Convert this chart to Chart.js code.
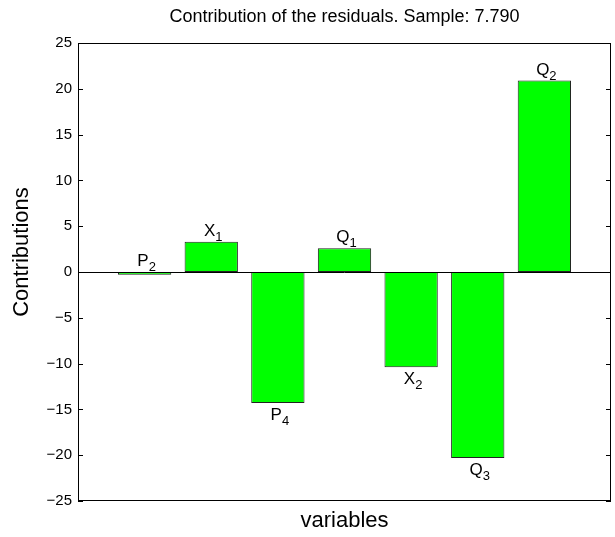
<!DOCTYPE html>
<html>
<head>
<meta charset="utf-8">
<script src="https://cdn.jsdelivr.net/npm/chart.js@4/dist/chart.umd.min.js"></script>
<style>
  html, body { margin: 0; padding: 0; background: #fff; }
  #wrap { width: 615px; height: 537px; }
</style>
</head>
<body>
<div id="wrap"><canvas id="grafico"></canvas></div>
<script>
// variables shown along the x axis (letter + subscript)
const varNames = ["P", "X", "P", "Q", "X", "Q", "Q"];
const varSubs = ["2", "1", "4", "1", "2", "3", "2"];
const positions = [1, 2, 3, 4, 5, 6, 7];
const contributions = [-0.3, 3.3, -14.3, 2.6, -10.4, -20.3, 20.9];
const yTicks = [-25, -20, -15, -10, -5, 0, 5, 10, 15, 20, 25];

const FONT = "'Liberation Sans', Arial, Helvetica, sans-serif";

// frame, inward ticks, zero line, titles and bar labels
const decor = {
    id: 'decor',
    afterDatasetsDraw(chart) {
        const ctx = chart.ctx;
        const a = chart.chartArea;
        const y = chart.scales.y;
        const x = chart.scales.x;
        ctx.save();
        ctx.strokeStyle = '#000';
        ctx.lineWidth = 1;
        // zero line
        const y0 = Math.round(y.getPixelForValue(0)) + 0.5;
        ctx.beginPath();
        ctx.moveTo(a.left, y0);
        ctx.lineTo(a.right, y0);
        ctx.stroke();
        // ticks inside on both sides
        yTicks.forEach(v => {
            const py = Math.round(y.getPixelForValue(v)) + 0.5;
            ctx.beginPath();
            ctx.moveTo(a.left, py); ctx.lineTo(a.left + 5, py);
            ctx.moveTo(a.right, py); ctx.lineTo(a.right - 5, py);
            ctx.stroke();
        });
        // box
        ctx.strokeRect(Math.round(a.left) + 0.5, Math.round(a.top) + 0.5,
            Math.round(a.right - a.left) - 1, Math.round(a.bottom - a.top) - 1);

        // bar labels
        ctx.fillStyle = '#000';
        positions.forEach((p, i) => {
            const v = contributions[i];
            const cx = x.getPixelForValue(p);
            const above = v > -1;
            const base = above ? y.getPixelForValue(Math.max(v, 0)) - 6 : y.getPixelForValue(v) + 17;
            ctx.font = '17px ' + FONT;
            const w1 = ctx.measureText(varNames[i]).width;
            ctx.font = '13px ' + FONT;
            const w2 = ctx.measureText(varSubs[i]).width;
            const sx = cx - (w1 + w2) / 2 + 2;
            ctx.textBaseline = 'alphabetic';
            ctx.textAlign = 'left';
            ctx.font = '17px ' + FONT;
            ctx.fillText(varNames[i], sx, base);
            ctx.font = '13px ' + FONT;
            ctx.fillText(varSubs[i], sx + w1, base + 5);
        });

        // title and axis titles
        const mid = (a.left + a.right) / 2;
        ctx.textAlign = 'center';
        ctx.textBaseline = 'middle';
        ctx.font = '18px ' + FONT;
        ctx.fillText('Contribution of the residuals. Sample: 7.790', mid, 17);
        ctx.font = '22px ' + FONT;
        ctx.fillText('variables', mid, 521);
        ctx.save();
        ctx.translate(22, 252);
        ctx.rotate(-Math.PI / 2);
        ctx.fillText('Contributions', 0, 0);
        ctx.restore();
        ctx.restore();
    }
};

const ctx = document.getElementById('grafico').getContext('2d');
new Chart(ctx, {
    type: 'bar',
    data: {
        datasets: [{
            data: positions.map((p, i) => ({ x: p, y: contributions[i] })),
            backgroundColor: '#00ff00',
            borderColor: '#222222',
            borderWidth: 1,
            borderSkipped: false,
            barPercentage: 0.8,
            categoryPercentage: 1
        }]
    },
    options: {
        responsive: true,
        maintainAspectRatio: false,
        animation: false,
        layout: { padding: { top: 43, right: 4, left: 0, bottom: 0 } },
        plugins: {
            legend: { display: false },
            tooltip: { enabled: false }
        },
        scales: {
            x: {
                type: 'linear',
                min: 0,
                max: 8,
                offset: false,
                grid: { display: false, drawTicks: false },
                border: { display: false },
                ticks: { display: false },
                afterFit: s => { s.height = 36; }
            },
            y: {
                min: -25,
                max: 25,
                grid: { display: false, drawTicks: false },
                border: { display: false },
                afterBuildTicks: s => { s.ticks = yTicks.map(v => ({ value: v })); },
                ticks: {
                    padding: 6,
                    color: '#000',
                    font: { family: FONT, size: 15 },
                    callback: v => (v < 0 ? '\u2212' + Math.abs(v) : String(v))
                },
                afterFit: s => { s.width = 78; }
            }
        }
    },
    plugins: [decor]
});
</script>
</body>
</html>
